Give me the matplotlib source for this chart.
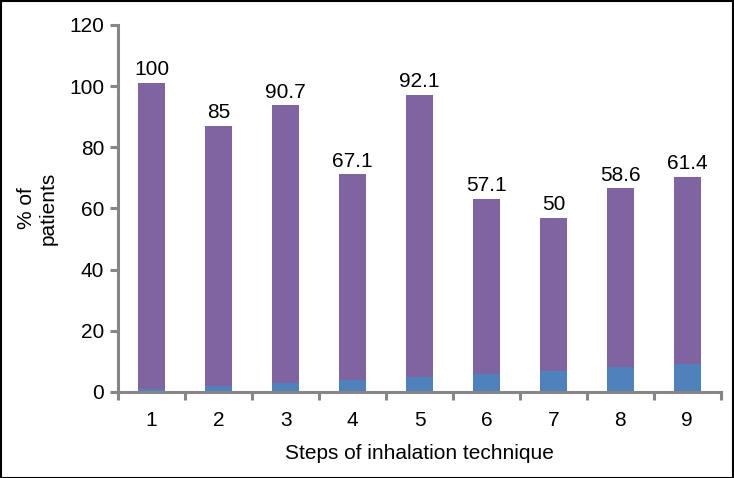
import matplotlib.pyplot as plt
from matplotlib.patches import Rectangle

plt.rcParams['font.family'] = ['Liberation Sans', 'DejaVu Sans']

steps = [1, 2, 3, 4, 5, 6, 7, 8, 9]
step_labels = ['1', '2', '3', '4', '5', '6', '7', '8', '9']
blue_vals = [1, 2, 3, 4, 5, 6, 7, 8, 9]
purple_vals = [100, 85, 90.7, 67.1, 92.1, 57.1, 50, 58.6, 61.4]
value_labels = ['100', '85', '90.7', '67.1', '92.1', '57.1', '50', '58.6', '61.4']

blue = '#4F81BD'
purple = '#8064A2'
grey = '#868686'
fs = 15

fig = plt.figure(figsize=(7.34, 4.78), dpi=100)
ax = fig.add_axes([0.161, 0.180, 0.821, 0.768])

ax.bar(steps, blue_vals, width=0.4, color=blue)
ax.bar(steps, purple_vals, width=0.4, bottom=blue_vals, color=purple)

for x, b, p, lab in zip(steps, blue_vals, purple_vals, value_labels):
    ax.text(x, b + p + 1.2, lab, ha='center', va='bottom', fontsize=fs)

ax.set_xlim(0.5, 9.5)
ax.set_ylim(0, 120)
ax.set_yticks(range(0, 121, 20))
ax.set_xticks([s - 0.5 for s in steps] + [9.5])
ax.set_xticklabels([])
ax.set_xticks(steps, minor=True)
ax.set_xticklabels(step_labels, minor=True)
ax.tick_params(axis='x', which='major', length=6, width=2.2, color=grey, direction='out')
ax.tick_params(axis='x', which='minor', length=0, pad=14, labelsize=fs)
ax.tick_params(axis='y', length=6, width=2.2, color=grey, labelsize=fs, pad=4)

for s in ['top', 'right']:
    ax.spines[s].set_visible(False)
for s in ['left', 'bottom']:
    ax.spines[s].set_color(grey)
    ax.spines[s].set_linewidth(2.2)

ax.set_xlabel('Steps of inhalation technique', fontsize=fs, labelpad=10)
ax.set_ylabel('% of\npatients', fontsize=fs, labelpad=8)

fig.patches.append(Rectangle((0.001, 0.001), 0.997, 0.997, transform=fig.transFigure,
                             fill=False, edgecolor='black', linewidth=1.5))

fig.savefig('out.png', dpi=100)
